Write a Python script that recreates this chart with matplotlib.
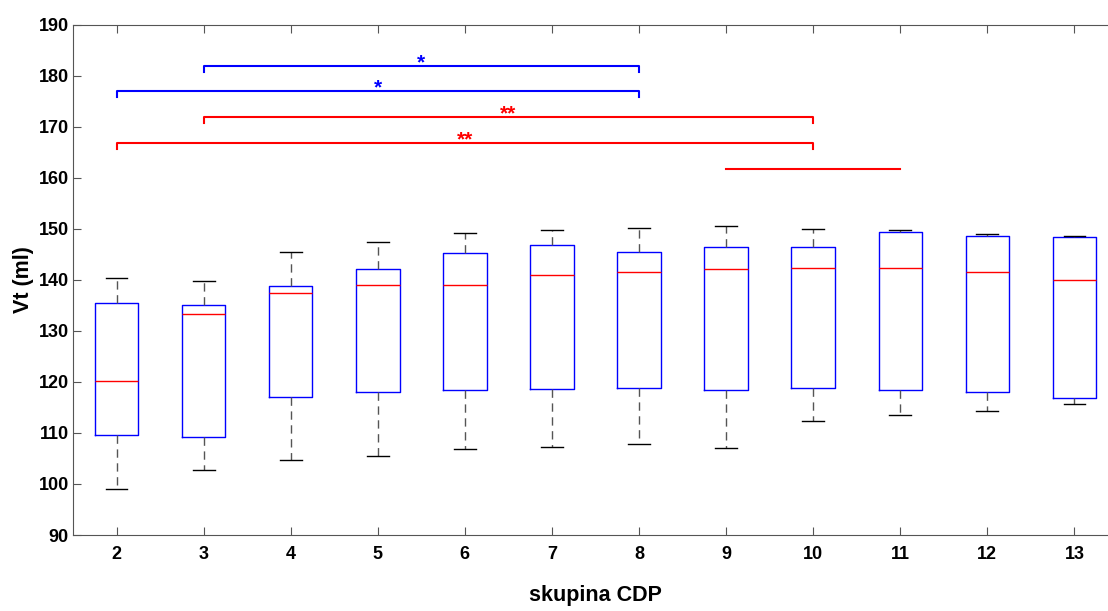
import numpy as np
import matplotlib
matplotlib.use('Agg')
import matplotlib.pyplot as plt

plt.rcParams['font.family'] = ['Liberation Sans', 'DejaVu Sans']
plt.rcParams['font.weight'] = 'bold'

groups = [2, 3, 4, 5, 6, 7, 8, 9, 10, 11, 12, 13]
whislo = [99.0, 102.7, 104.7, 105.4, 106.9, 107.3, 107.8, 107.1, 112.4, 113.5, 114.3, 115.7]
q1 = [109.6, 109.2, 117.1, 118.0, 118.4, 118.6, 118.8, 118.4, 118.8, 118.4, 118.0, 116.9]
med = [120.2, 133.3, 137.5, 139.0, 139.0, 141.0, 141.6, 142.1, 142.3, 142.3, 141.6, 140.0]
q3 = [135.5, 135.1, 138.8, 142.1, 145.3, 146.9, 145.5, 146.4, 146.4, 149.5, 148.6, 148.4]
whishi = [140.4, 139.8, 145.4, 147.5, 149.2, 149.8, 150.2, 150.5, 150.0, 149.9, 149.0, 148.6]

# significance brackets: (from group, to group, level, label, colour)
brackets = [(3, 8, 182.0, '*', 'blue'),
            (2, 8, 177.1, '*', 'blue'),
            (3, 10, 172.0, '**', 'red'),
            (2, 10, 166.9, '**', 'red')]
plain_line = (9, 11, 161.7)

fig = plt.figure(figsize=(11.08, 6.11), dpi=100)
ax = fig.add_axes([73/1108, 76/611, 1045/1108, 510/611])

stats = []
for i in range(len(groups)):
    stats.append(dict(whislo=whislo[i], q1=q1[i], med=med[i], q3=q3[i], whishi=whishi[i], fliers=[]))

ax.bxp(stats, positions=groups, widths=0.5, showfliers=False,
       boxprops=dict(color='blue', linewidth=1),
       medianprops=dict(color='red', linewidth=1),
       whiskerprops=dict(color='#555555', linewidth=1, linestyle=(0, (6, 4))),
       capprops=dict(color='black', linewidth=1), capwidths=0.25)

for g1, g2, lev, lab, col in brackets:
    ax.plot([g1, g1, g2, g2], [lev - 1.2, lev, lev, lev - 1.2], color=col, linewidth=1.5)
    ax.text((g1 + g2) / 2, lev - 0.5, lab, color=col, ha='center', va='baseline',
            fontsize=15, fontweight='bold')
ax.plot([plain_line[0], plain_line[1]], [plain_line[2], plain_line[2]], color='red', linewidth=1.5)

ax.set_xlim(1.5, 13.5)
ax.set_ylim(90, 190)
ax.set_xticks(groups)
ax.set_xticklabels([str(g) for g in groups])
ax.set_yticks(np.arange(90, 191, 10))
ax.tick_params(direction='in', length=6, color='#555555', labelsize=13, top=True, right=True)
ax.tick_params(axis='x', pad=8)
ax.tick_params(axis='y', pad=3)
for sp in ax.spines.values():
    sp.set_color('#555555')
ax.set_xlabel('skupina CDP', fontsize=15.5, fontweight='bold', labelpad=16)
ax.set_ylabel('Vt (ml)', fontsize=15.5, fontweight='bold', labelpad=3)

fig.savefig('out.png', dpi=100)
